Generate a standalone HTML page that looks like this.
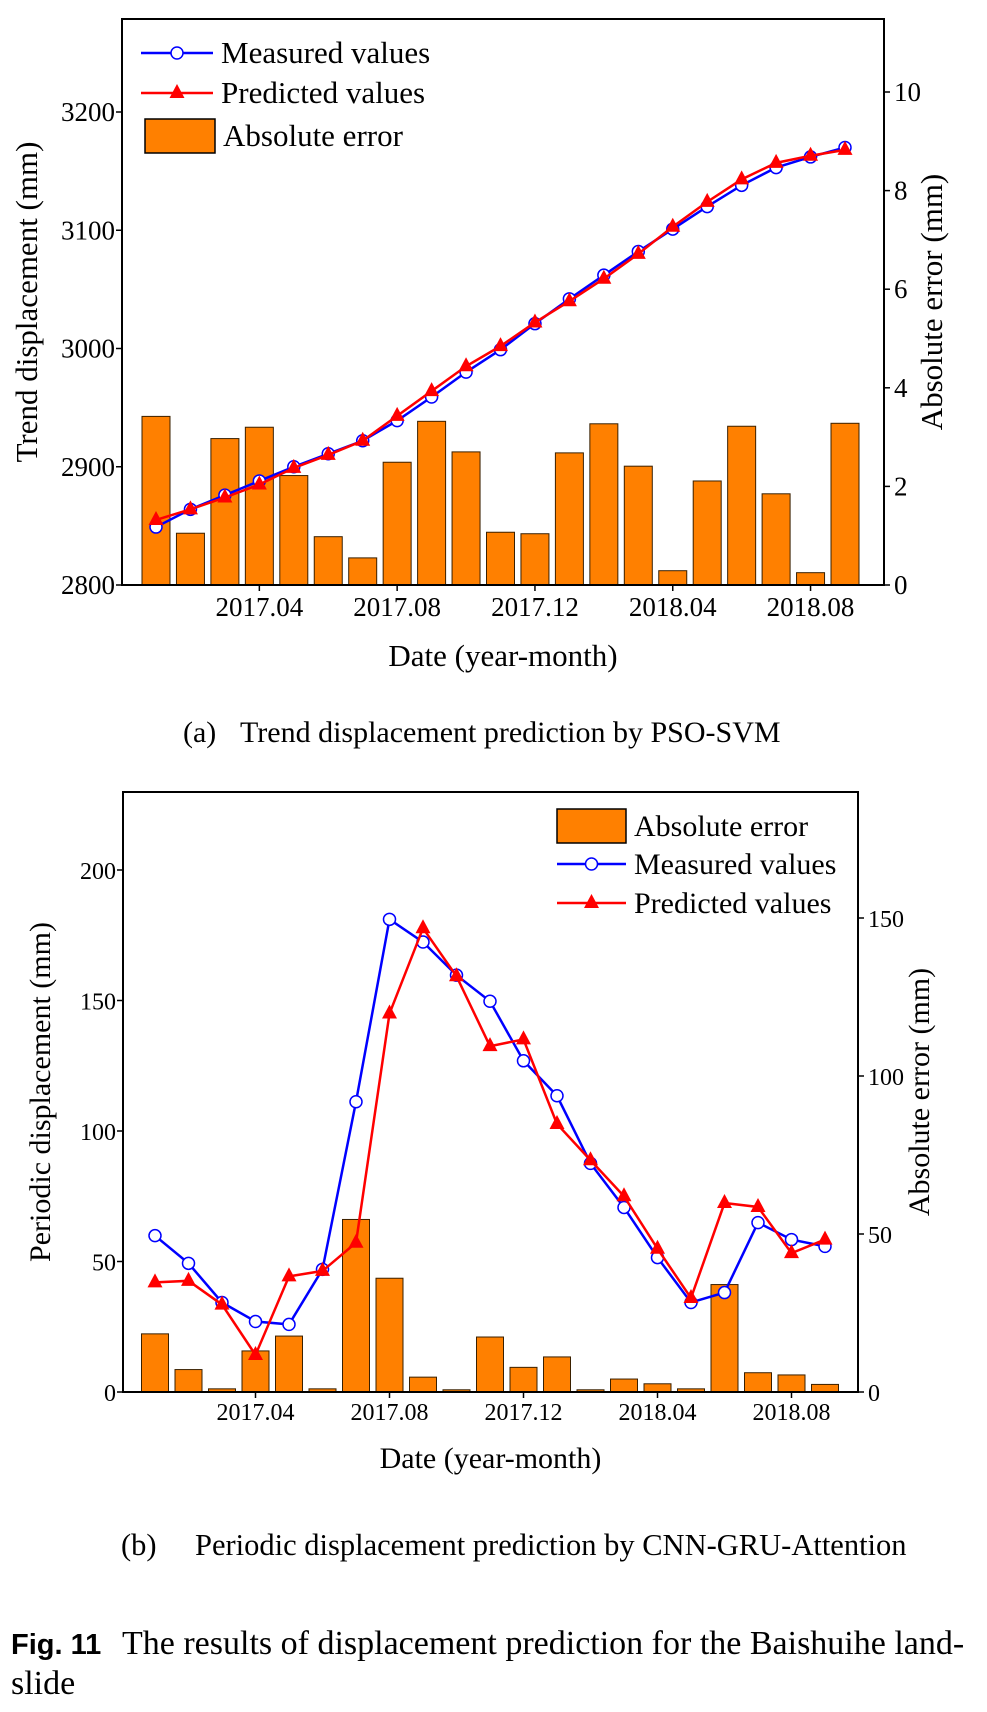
<!DOCTYPE html>
<html><head><meta charset="utf-8"><style>
body{margin:0;background:#fff;width:987px;height:1712px;overflow:hidden}
svg{display:block;font-family:"Liberation Serif",serif}
</style></head><body>
<svg id="fig" width="987" height="1712" viewBox="0 0 987 1712" xmlns="http://www.w3.org/2000/svg">
<g id="ga"></g>
<g id="gb"></g>
<text x="183" y="742" font-size="30"><tspan>(a)</tspan><tspan x="240">Trend displacement prediction by PSO-SVM</tspan></text>
<text x="121" y="1555" font-size="30.5"><tspan>(b)</tspan><tspan x="195">Periodic displacement prediction by CNN-GRU-Attention</tspan></text>
<text x="11" y="1654" font-size="34"><tspan font-family="Liberation Sans, sans-serif" font-weight="bold" font-size="29">Fig. 11</tspan><tspan x="122">The results of displacement prediction for the Baishuihe land-</tspan></text>
<text x="11" y="1694" font-size="34">slide</text>
</svg>
<script>
const months=["2017.01","2017.02","2017.03","2017.04","2017.05","2017.06","2017.07","2017.08","2017.09","2017.10","2017.11","2017.12","2018.01","2018.02","2018.03","2018.04","2018.05","2018.06","2018.07","2018.08","2018.09"];
const tickLabels=["2017.04","2017.08","2017.12","2018.04","2018.08"];
const aMeasured=[2849,2864,2876,2888,2900,2911,2922,2939,2959,2980,2999,3021,3042,3062,3082,3101,3120,3138,3153,3162,3170];
const aPredicted=[2855,2864,2874,2885,2899,2910,2922,2943,2964,2985,3002,3022,3040,3059,3080,3103,3124,3143,3157,3163,3168];
const aError=[3.42,1.05,2.97,3.2,2.22,0.98,0.55,2.49,3.32,2.7,1.07,1.04,2.68,3.27,2.41,0.29,2.11,3.22,1.85,0.25,3.28];
const aLeftTicks=[2800,2900,3000,3100,3200];
const aRightTicks=[0,2,4,6,8,10];
const bMeasured=[59.9,49.3,34.3,27,25.9,47,111.2,181.1,172.4,159.7,149.7,126.9,113.5,87.6,70.7,51.5,34.3,38.1,64.9,58.4,55.8];
const bPredicted=[42,42.6,33.5,14.2,44.3,46.4,57.2,145,177.7,159.3,132.5,135.1,102.7,88.8,75,54.9,36,72.4,70.9,53.2,58.4];
const bError=[18.4,7.1,1,13,17.7,1,54.6,36,4.7,0.7,17.4,7.8,11.1,0.7,4.1,2.6,1,34,6.1,5.4,2.4];
const bLeftTicks=[0,50,100,150,200];
const bRightTicks=[0,50,100,150];

const NS="http://www.w3.org/2000/svg";
function mk(p,t,a){const e=document.createElementNS(NS,t);for(const k in a)e.setAttribute(k,a[k]);p.appendChild(e);return e;}

function chart(g,c){
  const X=i=>c.x0+i*c.dx;
  const YL=v=>c.bottom-(v-c.lmin)*c.lk;
  const YR=v=>c.bottom-v*c.rk;
  c.err.forEach((v,i)=>{
    const r=mk(g,'rect',{x:X(i)-c.bw/2,y:YR(v),width:c.bw,height:c.bottom-YR(v),fill:'#ff8000',stroke:'#3a2000','stroke-width':1});
    
    
  });
  const drawLine=(arr,col,name,marker)=>{
    const pl=mk(g,'polyline',{points:arr.map((v,i)=>X(i)+','+YL(v)).join(' '),fill:'none',stroke:col,'stroke-width':2.5});
    
    
    arr.forEach((v,i)=>{
      let m;
      if(marker==='c') m=mk(g,'circle',{cx:X(i),cy:YL(v),r:6,fill:'#fff',stroke:col,'stroke-width':1.5});
      else {const x=X(i),y=YL(v);m=mk(g,'polygon',{points:`${x},${y-9} ${x-7.5},${y+5} ${x+7.5},${y+5}`,fill:col});}
      
      
    });
  };
  drawLine(c.meas,'#0000ff','measured','c');
  drawLine(c.pred,'#ff0000','predicted','t');
  const f=mk(g,'rect',{x:c.left,y:c.top,width:c.right-c.left,height:c.bottom-c.top,fill:'none',stroke:'#000','stroke-width':2});
  
  
  c.lt.forEach(v=>{
    mk(g,'line',{x1:c.left-6,x2:c.left,y1:YL(v),y2:YL(v),stroke:'#000','stroke-width':1.5});
    const t=mk(g,'text',{x:c.left-7,y:YL(v)+9,'font-size':c.fs,'text-anchor':'end'});t.textContent=v;
    
    
  });
  c.rt.forEach(v=>{
    mk(g,'line',{x1:c.right,x2:c.right+6,y1:YR(v),y2:YR(v),stroke:'#000','stroke-width':1.5});
    const t=mk(g,'text',{x:c.right+10,y:YR(v)+9,'font-size':c.fs});t.textContent=v;
    
    
  });
  tickLabels.forEach(l=>{
    const i=months.indexOf(l);
    mk(g,'line',{x1:X(i),x2:X(i),y1:c.bottom,y2:c.bottom+6,stroke:'#000','stroke-width':1.5});
    const t=mk(g,'text',{x:X(i),y:c.bottom+c.fs+4,'font-size':c.fs,'text-anchor':'middle'});t.textContent=l;
    
    
  });
  const xt=mk(g,'text',{x:(c.left+c.right)/2,y:c.xty,'font-size':c.tfs,'text-anchor':'middle'});xt.textContent='Date (year-month)';
  
  
  const ym=(c.top+c.bottom)/2;
  const yt=mk(g,'text',{x:c.ylx,y:ym,'font-size':c.tfs,'text-anchor':'middle',transform:`rotate(-90 ${c.ylx} ${ym})`});yt.textContent=c.ylabel;
  
  
  const yr=mk(g,'text',{x:c.yrx,y:ym,'font-size':c.tfs,'text-anchor':'middle',transform:`rotate(-90 ${c.yrx} ${ym})`});yr.textContent='Absolute error (mm)';
  
  
  c.legend.forEach(L=>{
    if(L.k==='bar'){const r=mk(g,'rect',{x:L.x,y:L.y-17,width:L.w,height:34,fill:'#ff8000',stroke:'#000','stroke-width':1.5});
      
      }
    else{const col=L.k==='c'?'#0000ff':'#ff0000';
      mk(g,'line',{x1:L.x,x2:L.x+L.w,y1:L.y,y2:L.y,stroke:col,'stroke-width':2.5});
      const cx=L.x+L.w/2;
      if(L.k==='c')mk(g,'circle',{cx:cx,cy:L.y,r:6,fill:'#fff',stroke:col,'stroke-width':1.5});
      else mk(g,'polygon',{points:`${cx},${L.y-9} ${cx-7.5},${L.y+5} ${cx+7.5},${L.y+5}`,fill:col});}
    const t=mk(g,'text',{x:L.tx,y:L.y+10,'font-size':c.lfs});t.textContent=L.t;
    
    
  });
}
chart(document.getElementById('ga'),{left:122,right:884,top:19,bottom:585,x0:156,dx:34.45,bw:28,lmin:2800,lk:473/400,rk:49.3,
  meas:aMeasured,pred:aPredicted,err:aError,lt:aLeftTicks,rt:aRightTicks,fs:27,tfs:31,lfs:31,xty:666,ylx:37,yrx:942,ylabel:'Trend displacement (mm)',
  legend:[{k:'c',x:141,w:72,y:53,tx:221,t:'Measured values'},{k:'t',x:141,w:72,y:93,tx:221,t:'Predicted values'},{k:'bar',x:145,w:70,y:136,tx:223,t:'Absolute error'}]});
chart(document.getElementById('gb'),{left:123,right:858,top:792,bottom:1392,x0:155,dx:33.5,bw:27,lmin:0,lk:2.61,rk:3.16,
  meas:bMeasured,pred:bPredicted,err:bError,lt:bLeftTicks,rt:bRightTicks,fs:24,tfs:30,lfs:30,xty:1468,ylx:50,yrx:929,ylabel:'Periodic displacement (mm)',
  legend:[{k:'bar',x:557,w:69,y:826,tx:634,t:'Absolute error'},{k:'c',x:557,w:69,y:864,tx:634,t:'Measured values'},{k:'t',x:557,w:69,y:903,tx:634,t:'Predicted values'}]});
</script>
</body></html>
